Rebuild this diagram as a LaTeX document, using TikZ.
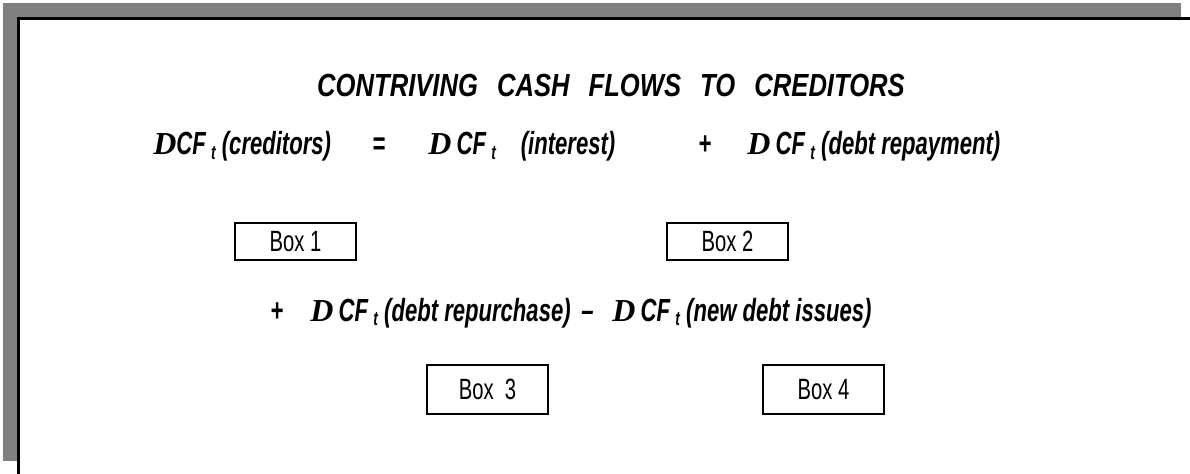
\documentclass[tikz,border=0pt]{standalone}
\usepackage{fontspec}
\setmainfont{Liberation Sans}
\newfontfamily\narrowsf[FakeStretch=0.69]{Liberation Sans}
\newfontfamily\titlesf[FakeStretch=0.8]{Liberation Sans}
\newfontfamily\deltaserif{Liberation Serif}
\usetikzlibrary{positioning}

\newcommand{\dlt}{{\deltaserif\bfseries\itshape D}}
\newcommand{\subt}{\,{\fontsize{15}{15}\selectfont\raisebox{-0.45ex}{t}}\ }

\tikzset{
  termtext/.style={font=\narrowsf\bfseries\itshape\fontsize{24}{26}\selectfont, inner sep=0pt, anchor=base west},
  titletext/.style={font=\titlesf\bfseries\itshape\fontsize{24}{26}\selectfont, inner sep=0pt, anchor=base},
  boxnode/.style={draw, line width=1.5pt, minimum width=90.75pt, inner sep=0pt, font=\narrowsf\fontsize{22}{24}\selectfont}
}

\begin{document}
\begin{tikzpicture}[x=0.75pt,y=-0.75pt]
    \useasboundingbox (0,0) rectangle (1190,474);
    % shadow and frame
    \fill[gray] (3,3) rectangle (1181,17);
    \fill[gray] (3,3) rectangle (17,461);
    \draw[line width=2.25pt] (17,18.5) -- (1190,18.5);
    \draw[line width=2.25pt] (18.5,17) -- (18.5,474);

    \node[titletext] (title) at (611,97) {CONTRIVING\hspace{9pt} CASH\hspace{9pt} FLOWS\hspace{9pt} TO\hspace{9pt} CREDITORS};

    \node[termtext] (lhs) at (153,155) {\dlt CF\subt(creditors)};
    \node[termtext] (eqsign) at (372,155) {=};
    \node[termtext] (interest) at (428,155) {\dlt\hspace{4pt}CF\subt\hspace{14pt}(interest)};
    \node[termtext] (plusone) at (698,155) {+};
    \node[termtext] (repay) at (747,155) {\dlt\hspace{4pt}CF\subt(debt repayment)};

    \node[boxnode, minimum height=27.75pt] (boxone) at (295.5,241.5) {Box 1};
    \node[boxnode, minimum height=27.75pt] (boxtwo) at (727.5,241.5) {Box 2};

    \node[termtext] (plustwo) at (270,321) {+};
    \node[termtext] (repurchase) at (310,321) {\dlt\hspace{4pt}CF\subt(debt repurchase)};
    \node[termtext] (minus) at (581,321) {–};
    \node[termtext] (newdebt) at (612,321) {\dlt\hspace{4pt}CF\subt(new debt issues)};

    \node[boxnode, minimum height=36.75pt] (boxthree) at (487.5,389.5) {Box\ \ 3};
    \node[boxnode, minimum height=36.75pt] (boxfour) at (823.5,389.5) {Box 4};
\end{tikzpicture}
\end{document}
